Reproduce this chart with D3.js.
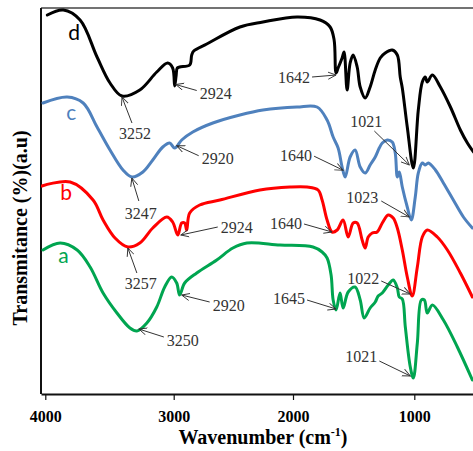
<!DOCTYPE html>
<html><head><meta charset="utf-8">
<script src="https://cdn.jsdelivr.net/npm/d3@7"></script>
<style>body{margin:0;background:#fff}svg{display:block}</style>
</head><body>
<svg id="chart" width="473" height="451"></svg>
<script>
// ---- data (wavenumber in cm-1, transmittance in a.u.) ----
const xTickValues = [4000, 3000, 2000, 1000];

const wnD = [3984,3860,3729,3597,3496,3403,3264,3132,3047,3008,2992,2980,2970,2950,2866,2849,2832,2723,2445,2252,1967,1777,1694,1661,1645,1628,1595,1579,1554,1529,1504,1471,1446,1405,1364,1322,1281,1240,1182,1140,1116,1099,1058,1008,967,934,909,893,851,785,702,620,562,512];
const tD  = [379,384,374,337,311,298,304,322,331,326,308,318,326,327,329,339,343,350,367,372,377,374,367,354,321,326,336,342,304,331,339,327,307,296,307,324,336,341,344,339,317,306,267,226,284,312,317,312,319,307,287,264,251,242];

const wnC = [4016,3829,3705,3597,3496,3395,3326,3240,3163,3085,3031,2992,2933,2840,2672,2445,2252,1967,1802,1719,1669,1628,1595,1570,1529,1488,1446,1405,1364,1322,1289,1264,1223,1182,1157,1140,1124,1099,1058,1025,992,967,934,909,884,826,760,678,595,521];
const tC  = [291,297,291,267,244,224,217,222,234,247,251,246,254,262,271,279,284,287,287,274,257,246,227,217,237,244,227,221,229,237,246,251,254,252,241,217,222,207,187,174,197,221,231,229,231,224,211,194,177,166];

const wnB = [4023,3806,3628,3550,3457,3357,3264,3163,3054,3008,2966,2933,2908,2891,2866,2782,2613,2277,2025,1884,1793,1760,1719,1678,1636,1587,1545,1504,1471,1430,1405,1380,1347,1306,1264,1215,1174,1140,1099,1058,1017,975,934,893,810,727,620,521];
const tB  = [208,212,194,174,156,147,151,166,177,172,159,171,171,164,181,189,194,204,207,207,204,194,174,162,164,174,157,171,171,154,146,157,161,162,171,179,176,166,144,117,98,127,157,164,157,144,121,97];

const wnA = [4016,3884,3752,3651,3550,3442,3341,3287,3209,3132,3070,3016,2975,2950,2908,2807,2639,2504,2387,2109,1835,1760,1719,1686,1669,1645,1612,1587,1545,1488,1446,1413,1364,1322,1298,1264,1215,1174,1140,1124,1099,1074,1033,1008,975,942,917,893,851,760,645,521];
const tA  = [144,151,144,127,101,81,66,63,71,87,107,117,111,99,111,121,134,146,151,149,147,142,136,119,94,84,101,86,102,107,94,76,86,92,98,101,109,114,106,97,95,67,27,16,51,94,94,81,89,74,47,14];

const seriesNames  = ["d", "c", "b", "a"];
const seriesColors = ["#000000", "#4f81bd", "#ff0000", "#00a550"];
const seriesWn = [wnD, wnC, wnB, wnA];
const seriesT  = [tD, tC, tB, tA];
// curve letter label anchor (wavenumber, a.u.)
const letterWn = [3822, 3837, 3884, 3899];
const letterT  = [354, 274, 194, 131];

// peak annotations: series index, label, wavenumber of arrow tip
const annSeries = [0,0,0,0, 1,1,1,1, 2,2,2,2, 3,3,3,3];
const annText   = ["3252","2924","1642","1021", "3247","2920","1640","1023", "3257","2924","1640","1022", "3250","2920","1645","1021"];
const annWn     = [3403,2983,1645,1008, 3326,2975,1587,1025, 3357,2966,1678,1017, 3287,2950,1645,1008];

// ---- layout ----
const W = 473, H = 451;
const mLeft = 41, mTop = 8, mBottom = 394;
const svg = d3.select("#chart");

const x = d3.scaleLinear()
  .domain([4030, 4000, 3000, 2000, 1000, 510])
  .range([mLeft, 45.3, 173.7, 293, 414.3, 473.7]);
const y = d3.scaleLinear().domain([0, 386]).range([mBottom, mTop]);

// annotation layout offsets (pixels): label offset, label anchor, arrow start, arrow-end nudge
const annLayout = [
  {lx:13, ly:37, a:"middle", ax:10, ay:27, ex:0, ey:1},
  {lx:24, ly:15, a:"start",  ax:21, ay:12, ex:0, ey:6},
  {lx:-26,ly:4,  a:"end",    ax:-24,ay:4,  ex:0, ey:2},
  {lx:-47,ly:-47,a:"middle", ax:-39,ay:-37,ex:-4,ey:-3},
  {lx:9,  ly:36, a:"middle", ax:7,  ay:24, ex:0, ey:1},
  {lx:25, ly:13, a:"start",  ax:22, ay:10, ex:0, ey:0},
  {lx:-31,ly:-15,a:"end",    ax:-29,ay:-14,ex:0, ey:0},
  {lx:-49,ly:-23,a:"middle", ax:-30,ay:-19,ex:-2,ey:-3},
  {lx:13, ly:36, a:"middle", ax:9,  ay:26, ex:0, ey:1},
  {lx:43, ly:-8, a:"start",  ax:40, ay:-8, ex:3, ey:0},
  {lx:-30,ly:-9, a:"end",    ax:-28,ay:-8, ex:0, ey:0},
  {lx:-49,ly:-18,a:"middle", ax:-31,ay:-15,ex:-2,ey:-2},
  {lx:30, ly:9,  a:"start",  ax:27, ay:6,  ex:2, ey:-2},
  {lx:33, ly:10, a:"start",  ax:30, ay:7,  ex:2, ey:0},
  {lx:-31,ly:-12,a:"end",    ax:-29,ay:-10,ex:0, ey:-1},
  {lx:-52,ly:-22,a:"middle", ax:-34,ay:-17,ex:-3,ey:-2}
];

const defs = svg.append("defs");
defs.append("clipPath").attr("id","clip")
  .append("rect").attr("x", mLeft).attr("y", mTop).attr("width", W - mLeft).attr("height", mBottom - mTop);
defs.append("marker")
  .attr("id","arr").attr("viewBox","0 -5 10 10").attr("refX",9).attr("refY",0)
  .attr("markerWidth",9).attr("markerHeight",9).attr("markerUnits","userSpaceOnUse")
  .attr("orient","auto")
  .append("path").attr("d","M0,-4L9,0L0,4").attr("fill","none").attr("stroke","#333").attr("stroke-width",1);

// frame: top and left
svg.append("line").attr("x1", mLeft).attr("x2", W).attr("y1", mTop).attr("y2", mTop)
  .attr("stroke", "#444").attr("stroke-width", 1.5);
svg.append("line").attr("x1", mLeft).attr("x2", mLeft).attr("y1", mTop).attr("y2", mBottom)
  .attr("stroke", "#111").attr("stroke-width", 2);

// x axis
const ax = svg.append("g").attr("transform", `translate(0,${mBottom})`)
  .call(d3.axisBottom(x).tickValues(xTickValues).tickSize(6).tickSizeOuter(0).tickPadding(11).tickFormat(d3.format("d")));
ax.select(".domain").attr("stroke", "#111").attr("stroke-width", 2);
ax.selectAll(".tick line").attr("stroke", "#111").attr("stroke-width", 1.2);
ax.selectAll(".tick text").attr("font-family", "'Liberation Serif','Times New Roman',serif")
  .attr("font-size", 16).attr("font-weight", "bold").attr("fill", "#000");

// curves
const line = d3.line().x(d => x(d[0])).y(d => y(d[1])).curve(d3.curveCatmullRom.alpha(0.5));
const plot = svg.append("g").attr("clip-path", "url(#clip)");
seriesNames.forEach((n, i) => {
  const pts = seriesWn[i].map((w, j) => [w, seriesT[i][j]]);
  plot.append("path").datum(pts).attr("d", line)
    .attr("fill", "none").attr("stroke", seriesColors[i]).attr("stroke-width", 3)
    .attr("stroke-linejoin", "round").attr("stroke-linecap", "round");
  svg.append("text").attr("x", x(letterWn[i])).attr("y", y(letterT[i]))
    .attr("font-family", "Lato, 'Open Sans', sans-serif").attr("font-size", 21)
    .attr("fill", seriesColors[i]).text(n);
});

function valAt(ws, ts, w) {
  for (let i = 0; i < ws.length - 1; i++) {
    if (ws[i] >= w && w >= ws[i + 1]) {
      const f = (ws[i] - w) / (ws[i] - ws[i + 1] || 1);
      return ts[i] + f * (ts[i + 1] - ts[i]);
    }
  }
  return ts[ts.length - 1];
}

// annotations
annText.forEach((t, k) => {
  const s = annSeries[k], L = annLayout[k];
  const tx = x(annWn[k]), ty = y(valAt(seriesWn[s], seriesT[s], annWn[k]));
  svg.append("line")
    .attr("x1", tx + L.ax).attr("y1", ty + L.ay)
    .attr("x2", tx + L.ex).attr("y2", ty + L.ey)
    .attr("stroke", "#333").attr("stroke-width", 1).attr("marker-end", "url(#arr)");
  svg.append("text").attr("x", tx + L.lx).attr("y", ty + L.ly).attr("dy", "0.35em")
    .attr("text-anchor", L.a)
    .attr("font-family", "'Liberation Serif','Times New Roman',serif").attr("font-size", 16)
    .attr("fill", "#333").text(t);
});

// axis titles
const xt = svg.append("text").attr("x", 263).attr("y", 444).attr("text-anchor", "middle")
  .attr("font-family", "'Liberation Serif','Times New Roman',serif").attr("font-size", 20)
  .attr("font-weight", "bold").attr("fill", "#000");
xt.append("tspan").text("Wavenumber (cm");
xt.append("tspan").attr("font-size", 12).attr("dy", -8).text("-1");
xt.append("tspan").attr("dy", 8).text(")");

svg.append("text").attr("transform", "translate(27,228) rotate(-90)").attr("text-anchor", "middle")
  .attr("font-family", "'Liberation Serif','Times New Roman',serif").attr("font-size", 20)
  .attr("font-weight", "bold").attr("fill", "#000").text("Transmitance (%)(a.u)");
</script>
</body></html>
